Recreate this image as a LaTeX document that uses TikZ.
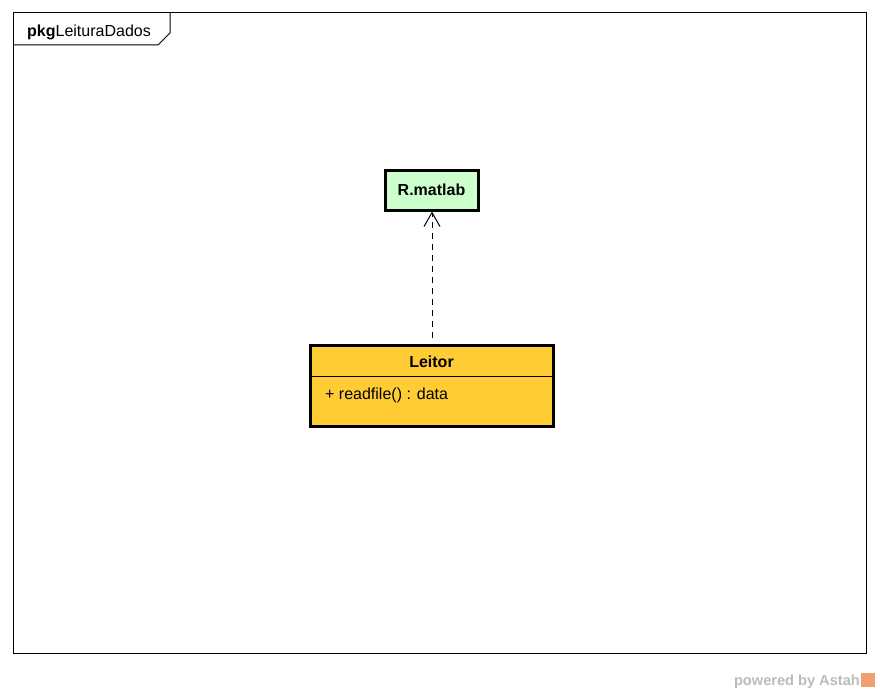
\documentclass[tikz,border=0pt]{standalone}
\usepackage{fontspec}
\setmainfont{Liberation Sans}
\usetikzlibrary{arrows.meta}
\definecolor{clsgreen}{HTML}{CCFFCC}
\definecolor{clsorange}{HTML}{FFCC33}
\definecolor{wmgrey}{HTML}{BBBBBB}
\definecolor{wmorange}{HTML}{F0A070}
\begin{document}
\begin{tikzpicture}[x=1pt,y=-1pt,
  txt/.style={inner sep=0pt,anchor=base west,font=\fontsize{16}{18}\selectfont},
  clsbox/.style={draw=black,line width=3pt,inner sep=0pt},
  dep/.style={dashed,dash pattern=on 6pt off 5pt,line width=1pt,-{Straight Barb[length=14pt,width=16pt,line width=1pt]}}]
\useasboundingbox (0,0) rectangle (880,693);
\fill[white] (0,0) rectangle (880,693);
% frame
\draw[line width=1pt] (13,13) rectangle (866,653);
\draw[line width=1pt] (13,45) -- (158,45) -- (170,33) -- (170,13);
\node[txt] (pkg) at (27,37) {\textbf{pkg}LeituraDados};
% R.matlab
\node[clsbox,fill=clsgreen,minimum width=93pt,minimum height=40pt] (rmat) at (431.5,190) {};
\node[txt,anchor=base,font=\fontsize{16}{18}\selectfont\bfseries] (rmt) at (431.5,195.5) {R.matlab};
% Leitor
\node[clsbox,fill=clsorange,minimum width=243pt,minimum height=81pt] (le) at (431.5,385.5) {};
\draw[line width=1pt] (311.5,376) -- (551.5,376);
\node[txt,anchor=base,font=\fontsize{16}{18}\selectfont\bfseries] (let) at (431.5,367.5) {Leitor};
\node[txt] (op) at (325,399) {+ readfile() : data};
% dependency
\coordinate (depstart) at (432,338);
\draw[dep] (depstart) -- (depstart |- rmat.south);
% watermark
\node[txt,anchor=base east,text=wmgrey,font=\fontsize{14.6}{16}\selectfont\bfseries] (wm) at (860,685) {powered by Astah};
\fill[wmorange] (861,673) rectangle (875,687);
\end{tikzpicture}
\end{document}
